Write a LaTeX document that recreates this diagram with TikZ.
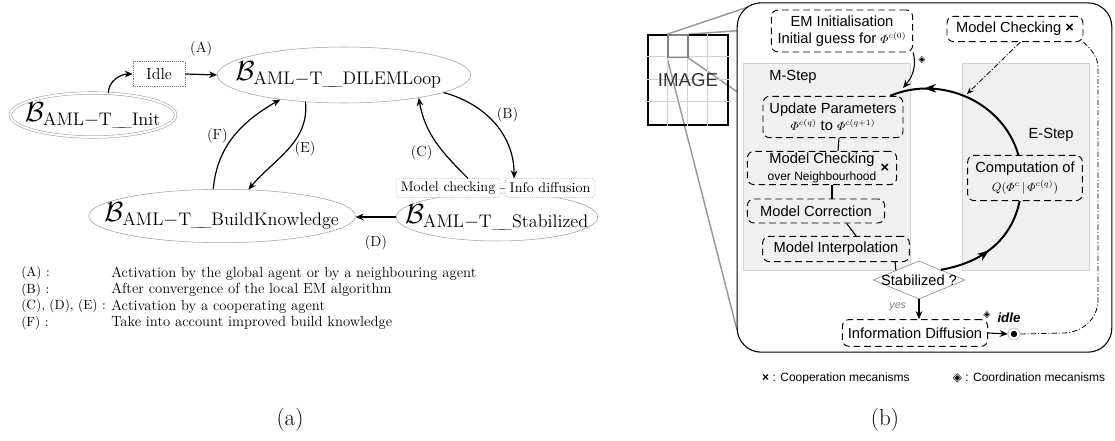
\documentclass[tikz,border=0pt]{standalone}
\usepackage{fontspec}
\usepackage{amsmath,amssymb}
\usetikzlibrary{arrows.meta,shapes.geometric,decorations.markings,backgrounds}

\newfontfamily\arialf{Liberation Sans}
\newfontfamily\dejavu{DejaVu Sans}

\newcommand{\agst}[1]{$\mathcal{B}_{\mathrm{AML-T\_\kern-0.25em\_#1}}$}
\newcommand{\coopx}{{\arialf\bfseries ×}}
\newcommand{\coordd}{{\dejavu ◈}}

\begin{document}
\begin{tikzpicture}[x=0.75pt, y=0.75pt,
    >={Stealth[length=6pt, width=5pt]},
    state/.style={ellipse, draw=gray!75, inner sep=0pt},
    stname/.style={font=\fontsize{19.5}{24}\selectfont},
    tagbox/.style={draw=gray, densely dotted, fill=white, rounded corners=2pt, inner xsep=3.5pt, inner ysep=0pt, minimum height=14pt, font=\fontsize{10.5}{12}\selectfont},
    trans/.style={->, line width=0.9pt},
    lab/.style={font=\fontsize{11}{13}\selectfont},
    legend/.style={font=\fontsize{11}{13}\selectfont, anchor=west, inner sep=0pt},
    area/.style={fill=gray!12, draw=gray!35},
    embox/.style={draw, dash pattern=on 5pt off 3pt, rounded corners=5pt, line width=0.7pt, align=center, inner sep=0pt, font=\arialf\fontsize{11}{12.5}\selectfont},
    loopline/.style={line width=1.5pt},
    midarrow/.style={postaction={decorate}, decoration={markings, mark=at position #1 with {\arrow{Stealth[length=9pt, width=6.5pt]}}}},
    mecha/.style={dash pattern=on 4pt off 1.5pt on 0.8pt off 1.5pt, line width=0.6pt},
  ]
  \useasboundingbox (0,0) rectangle (1115,-441);

  % (a) etats de l'agent AML-T
  \node[state, double, double distance=1.5pt, minimum width=124pt, minimum height=33pt] (init) at (93,-115) {};
  \node[stname] (init-t) at (init) {\agst{Init}};
  \node[draw=gray, densely dotted, minimum width=39pt, minimum height=19pt, inner sep=0pt, font=\fontsize{12}{14}\selectfont] (idle) at (159,-74) {Idle};
  \node[state, minimum width=190pt, minimum height=42pt] (loop) at (344,-75) {};
  \node[stname] (loop-t) at ([xshift=-4pt]loop) {\agst{DILEMLoop}};
  \node[state, minimum width=200pt, minimum height=40pt] (build) at (222,-216) {};
  \node[stname] (build-t) at (build) {\agst{BuildKnowledge}};
  \node[state, minimum width=151pt, minimum height=36pt] (stab) at (497,-217) {};
  \node[stname] (stab-t) at (stab) {\agst{Stabilized}};
  \node[tagbox] (check) at (448,-188) {Model checking};
  \node[tagbox] (diffuse) at (550,-188) {Info diffusion};
  \draw[gray] (check.east) -- (diffuse.west);

  % transitions
  \draw[trans] (init.55) to[out=90, in=180] (idle.west);
  \draw[trans] (idle.east) -- node[lab, above=10pt] (lab-a) {(A)} (loop.west);
  \draw[trans] (loop.-10) to[out=-15, in=90] node[lab, pos=0.4, right=4pt] (lab-b) {(B)} ([xshift=7pt]diffuse.north west);
  \draw[trans] ([xshift=15pt]check.north) to[out=135, in=-80] node[lab, pos=0.35, left=5pt] (lab-c) {(C)} (loop.-17);
  \draw[trans] (loop.-145) to[out=-85, in=50] node[lab, right=1pt] (lab-e) {(E)} (build.45);
  \draw[trans] (build.108) to[out=85, in=-150] node[lab, left=1pt] (lab-f) {(F)} (loop.-159);
  \draw[trans] (stab.west) -- node[lab, below=10pt] (lab-d) {(D)} (stab.west -| build.east);

  % legende (a)
  \foreach \key/\txt [count=\i] in {(A) :/Activation by the global agent or by a neighbouring agent, (B) :/After convergence of the local EM algorithm, {(C), (D), (E) :}/Activation by a cooperating agent, (F) :/Take into account improved build knowledge} {
    \node[legend, font=\fontsize{10}{12}\selectfont] (key-\i) at (21,-257-16.5*\i) {\key};
    \node[legend] (txt-\i) at (111,-257-16.5*\i) {\txt};
  }

  \node[font=\LARGE] (cap-a) at (290,-420) {(a)};
  \node[font=\LARGE] (cap-b) at (885,-420) {(b)};

  % (b) boucle EM de l'agent
  \node[draw, line width=1.2pt, minimum width=60pt, minimum height=67.5pt, inner sep=0pt] (img) at (688,-80) {};
  \foreach \k in {1,2,3} {
    \draw[gray!35] ([xshift=15pt*\k]img.north west) -- ([xshift=15pt*\k]img.south west);
    \draw[gray!35] ([yshift=-16.875pt*\k]img.north west) -- ([yshift=-16.875pt*\k]img.north east);
  }
  \node[draw=gray, line width=1pt, minimum width=15pt, minimum height=16.875pt, inner sep=0pt, anchor=north west] (cell) at ([xshift=15pt]img.north west) {};
  \node[font=\arialf\fontsize{14}{14}\selectfont, text=black!80] (img-t) at (img) {IMAGE};

  \node[draw, line width=0.8pt, rounded corners=18pt, fill=white, minimum width=281pt, minimum height=262pt, inner sep=0pt] (panel) at (924.5,-177.5) {};
  \coordinate (z-tl) at (760,-3);
  \coordinate (z-tr) at (900,-19);
  \coordinate (z-br) at (900,-205);
  \coordinate (z-bl) at (737,-330);
  \begin{scope}[on background layer]
    \draw[gray!80, line width=1.1pt] (cell.north west) -- (z-tl) (cell.north east) -- (z-tr)
      (cell.south east) -- (z-br) (cell.south west) -- (z-bl);
  \end{scope}

  \draw[area] (743,-63) rectangle (910,-270);
  \draw[area] (962,-63) rectangle (1089,-270);
  \node[font=\arialf\fontsize{11}{12}\selectfont] (mstep) at (793,-77) {M-Step};
  \node[font=\arialf\fontsize{11}{12}\selectfont] (estep) at (1051,-135) {E-Step};

  \node[embox, minimum width=106pt, minimum height=31.5pt] (emi) at (842,-31) {EM Initialisation\\Initial guess for {\small$\varPhi^{c(0)}$}};
  \node[embox, minimum width=102pt, minimum height=19pt] (mc) at (1015,-29) {Model Checking \coopx};
  \node[embox, minimum width=105pt, minimum height=31pt] (upd) at (833,-117) {Update Parameters\\{\small$\varPhi^{c(q)}$} to {\small$\varPhi^{c(q+1)}$}};
  \node[embox, minimum width=112pt, minimum height=25pt] (mcn) at (822,-168) {Model Checking\\{\fontsize{9}{10}\selectfont over Neighbourhood}};
  \node[font=\arialf\fontsize{11}{12}\selectfont] (mcn-x) at (885,-168) {\coopx};
  \node[embox, minimum width=103pt, minimum height=18pt] (corr) at (816,-211) {Model Correction};
  \node[embox, minimum width=110pt, minimum height=19pt] (interp) at (836,-249) {Model Interpolation};
  \node[embox, minimum width=86pt, minimum height=34pt] (comp) at (1025,-178) {Computation of\\[2pt]{\small$Q(\varPhi^c\,|\,\varPhi^{c(q)})$}};
  \node[diamond, draw=gray, fill=white, inner sep=0pt, minimum width=69pt, minimum height=28.5pt] (stabd) at (919,-280) {};
  \node[font=\arialf\fontsize{11}{12}\selectfont] (stabd-t) at (stabd) {Stabilized ?};
  \node[embox, minimum width=109pt, minimum height=20pt] (info) at (915,-333) {Information Diffusion};

  \draw[line width=0.8pt] ([xshift=4.5pt]upd.south) -- ([xshift=12pt]mcn.north);
  \draw[line width=0.8pt] ([xshift=7.5pt]mcn.south) -- ([xshift=12pt]corr.north);
  \draw[line width=0.8pt] ([xshift=23pt]corr.south) -- ([xshift=15pt]interp.north);
  \draw[line width=0.8pt] ([xshift=-11pt]interp.south east) -- (stabd.north west);

  % cycle EM
  \draw[loopline, midarrow=0.47] (stabd.25) to[out=10, in=-102] ([xshift=-4pt]comp.south);
  \draw[loopline, midarrow=0.78] ([xshift=-5pt]comp.north) to[out=106, in=23] ([xshift=-10pt]upd.north east);
  \coordinate (q-in) at (903,-88);
  \draw[->, line width=0.8pt] (emi.south east) to[out=-75, in=50] (q-in);
  \node[font=\dejavu\fontsize{7}{7}\selectfont] (emi-c) at (922,-60) {◈};
  \coordinate (q-mc) at (967,-94);
  \draw[mecha, -{Stealth[length=5pt, width=4pt]}] ([xshift=4pt]mc.south) -- (q-mc);

  % sortie
  \draw[->, line width=0.8pt] (stabd.south) -- node[left=6pt, pos=0.4, font=\arialf\itshape\fontsize{8}{9}\selectfont, text=gray] (yes) {yes} (stabd.south |- info.north);
  \node[circle, draw=gray!70, fill=white, minimum size=9pt, inner sep=0pt] (idl) at (1014,-334) {};
  \fill (idl) circle (2.4pt);
  \draw[->, line width=0.8pt] (info.east) -- (idl.west);
  \node[font=\arialf\bfseries\itshape\fontsize{10}{11}\selectfont] (idl-t) at (1009,-318) {idle};
  \node[font=\dejavu\fontsize{7}{7}\selectfont] (info-c) at (987,-315) {◈};
  \draw[mecha] (idl.east) -- (1063,-333) to[out=0, in=-90] (1098,-300) -- (1098,-68) to[out=90, in=-45] (mc.south east);

  % legende (b)
  \node[font=\arialf\fontsize{9}{10}\selectfont] (leg-coop) at (836,-378) {\coopx\ : Cooperation mecanisms};
  \node[font=\arialf\fontsize{9}{10}\selectfont] (leg-coord) at (1029,-378) {\coordd\ : Coordination mecanisms};
\end{tikzpicture}
\end{document}
